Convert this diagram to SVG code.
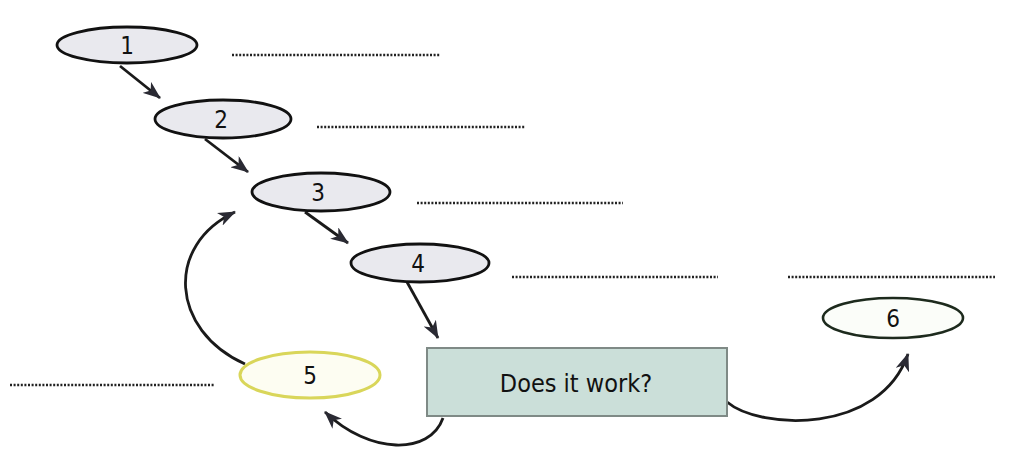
<svg xmlns="http://www.w3.org/2000/svg" width="1022" height="471" viewBox="0 0 1022 471">
<style>
.node{fill:#e9e9ee;stroke:#111;stroke-width:2.8}
.lbl{font-family:"DejaVu Sans Condensed","DejaVu Sans","Liberation Sans",sans-serif;font-size:24px;fill:#111;text-anchor:middle}
.dots{stroke:#222;stroke-width:2.6;stroke-dasharray:2 1.6;fill:none}
.conn{fill:none;stroke:#1a1a1a;stroke-width:2.8;marker-end:url(#ah)}
</style>
<defs>
<marker id="ah" viewBox="0 0 18 14" refX="17" refY="7" markerWidth="18" markerHeight="14" markerUnits="userSpaceOnUse" orient="auto">
<path d="M0,0 L18,7 L0,14 L5,7 Z" fill="#2a2a33"/>
</marker>
</defs>
<rect width="1022" height="471" fill="#fff"/>
<g id="dotted-lines">
<line class="dots" x1="232" y1="55" x2="440" y2="55"/>
<line class="dots" x1="317" y1="127" x2="525" y2="127"/>
<line class="dots" x1="417" y1="203" x2="623" y2="203"/>
<line class="dots" x1="512" y1="277" x2="718" y2="277"/>
<line class="dots" x1="788" y1="277" x2="995" y2="277"/>
<line class="dots" x1="10" y1="385" x2="215" y2="385"/>
</g>
<g id="connectors">
<line class="conn" x1="120" y1="66" x2="160" y2="98"/>
<line class="conn" x1="205" y1="139" x2="248" y2="172"/>
<line class="conn" x1="305" y1="212" x2="348" y2="243"/>
<line class="conn" x1="407" y1="282" x2="438" y2="338"/>
<path class="conn" d="M245,364 C170,330 165,245 235,212"/>
<path class="conn" d="M443,418 C430,455 370,455 325,412"/>
<path class="conn" d="M727,402 C760,430 880,435 908,354"/>
</g>
<g id="node-1">
<ellipse class="node" cx="127" cy="45" rx="70" ry="18"/>
<text class="lbl" x="127" y="54">1</text>
</g>
<g id="node-2">
<ellipse class="node" cx="223" cy="119" rx="68" ry="19"/>
<text class="lbl" x="221" y="128">2</text>
</g>
<g id="node-3">
<ellipse class="node" cx="321" cy="192" rx="69" ry="19"/>
<text class="lbl" x="318" y="201">3</text>
</g>
<g id="node-4">
<ellipse class="node" cx="420" cy="263" rx="69" ry="19"/>
<text class="lbl" x="418" y="272">4</text>
</g>
<g id="node-5">
<ellipse cx="310" cy="375" rx="70" ry="23" fill="#fdfdf2" stroke="#d9d65a" stroke-width="3"/>
<text class="lbl" x="310" y="384">5</text>
</g>
<g id="node-6">
<ellipse cx="893" cy="318" rx="70" ry="20" fill="#fbfdf9" stroke="#1d2a1d" stroke-width="2.6"/>
<text class="lbl" x="893" y="327">6</text>
</g>
<g id="node-decision">
<rect x="427" y="348" width="300" height="68" fill="#cbdfd9" stroke="#7f8a86" stroke-width="2"/>
<text x="576" y="392" font-family="'DejaVu Sans Condensed','DejaVu Sans','Liberation Sans',sans-serif" font-size="25" fill="#111" text-anchor="middle">Does it work?</text>
</g>
</svg>
